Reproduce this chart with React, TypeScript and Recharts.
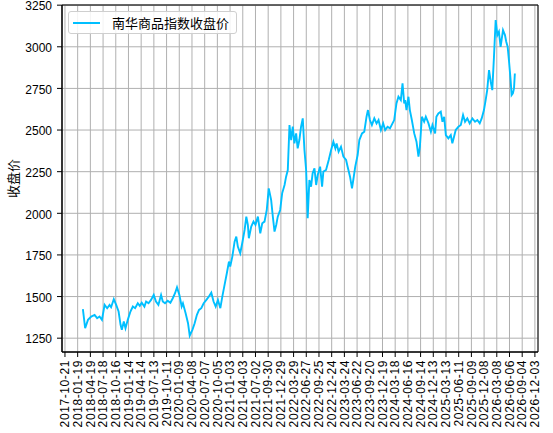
import React from 'react';
import {
  LineChart,
  Line,
  XAxis,
  YAxis,
  CartesianGrid,
  Legend,
  ReferenceArea,
} from 'recharts';

/* ------------------------------------------------------------------ */
/*  data                                                               */
/* ------------------------------------------------------------------ */
const SERIES_NAME = '南华商品指数收盘价';
const Y_LABEL = '收盘价';

const DATES = [
  '2018-02-25', '2018-03-13', '2018-04-02', '2018-04-25', '2018-05-19', '2018-06-06',
  '2018-06-23', '2018-07-10', '2018-07-29', '2018-08-16', '2018-09-02', '2018-09-13',
  '2018-10-02', '2018-10-19', '2018-11-05', '2018-11-19', '2018-11-28', '2018-12-12',
  '2018-12-24', '2019-01-09', '2019-01-28', '2019-02-14', '2019-03-02', '2019-03-21',
  '2019-04-04', '2019-04-18', '2019-05-07', '2019-05-19', '2019-06-05', '2019-06-23',
  '2019-07-12', '2019-07-28', '2019-08-14', '2019-09-02', '2019-09-14', '2019-09-30',
  '2019-10-19', '2019-11-07', '2019-11-24', '2019-12-10', '2019-12-24', '2020-01-10',
  '2020-01-26', '2020-02-04', '2020-02-23', '2020-03-11', '2020-03-23', '2020-04-11',
  '2020-04-27', '2020-05-13', '2020-05-28', '2020-06-13', '2020-06-30', '2020-07-19',
  '2020-08-06', '2020-08-23', '2020-09-08', '2020-09-23', '2020-10-09', '2020-10-26',
  '2020-11-09', '2020-11-25', '2020-12-11', '2020-12-26', '2021-01-04', '2021-01-19',
  '2021-02-04', '2021-02-16', '2021-02-27', '2021-03-16', '2021-03-30', '2021-04-16',
  '2021-04-28', '2021-05-09', '2021-05-16', '2021-06-02', '2021-06-18', '2021-07-02',
  '2021-07-19', '2021-08-05', '2021-08-19', '2021-09-04', '2021-09-20', '2021-10-04',
  '2021-10-21', '2021-11-02', '2021-11-14', '2021-11-26', '2021-12-07', '2021-12-24',
  '2022-01-07', '2022-01-24', '2022-02-04', '2022-02-16', '2022-02-28', '2022-03-12',
  '2022-03-23', '2022-04-04', '2022-04-16', '2022-04-27', '2022-05-09', '2022-05-21',
  '2022-06-02', '2022-06-14', '2022-06-26', '2022-07-07', '2022-07-19', '2022-07-31',
  '2022-08-11', '2022-08-24', '2022-09-05', '2022-09-16', '2022-10-03', '2022-10-17',
  '2022-10-26', '2022-11-14', '2022-12-03', '2022-12-20', '2023-01-05', '2023-01-19',
  '2023-01-28', '2023-02-11', '2023-02-28', '2023-03-17', '2023-04-05', '2023-04-16',
  '2023-05-03', '2023-05-17', '2023-05-26', '2023-06-09', '2023-06-26', '2023-07-08',
  '2023-07-27', '2023-08-12', '2023-08-28', '2023-09-07', '2023-09-21', '2023-10-05',
  '2023-10-22', '2023-11-07', '2023-11-21', '2023-12-08', '2023-12-24', '2024-01-07',
  '2024-01-24', '2024-02-10', '2024-02-28', '2024-03-11', '2024-03-27', '2024-04-10',
  '2024-04-27', '2024-05-09', '2024-05-21', '2024-05-28', '2024-06-06', '2024-06-20',
  '2024-06-30', '2024-07-14', '2024-07-31', '2024-08-16', '2024-08-30', '2024-09-09',
  '2024-09-23', '2024-10-09', '2024-10-21', '2024-11-09', '2024-11-26', '2024-12-07',
  '2024-12-26', '2025-01-04', '2025-01-18', '2025-02-04', '2025-02-16', '2025-02-28',
  '2025-03-12', '2025-03-30', '2025-04-16', '2025-04-27', '2025-05-09', '2025-05-21',
  '2025-06-09', '2025-06-26', '2025-07-12', '2025-07-26', '2025-08-11', '2025-08-28',
  '2025-09-16', '2025-10-05', '2025-10-21', '2025-11-07', '2025-11-21', '2025-12-07',
  '2025-12-19', '2025-12-30', '2026-01-12', '2026-01-24', '2026-02-04', '2026-02-16',
  '2026-02-28', '2026-03-12', '2026-03-23', '2026-04-04', '2026-04-21', '2026-05-05',
  '2026-05-14', '2026-05-24', '2026-06-02', '2026-06-14', '2026-06-21', '2026-06-30',
  '2026-07-08', '2026-07-14',
];

const CLOSE = [
  1424, 1310, 1360, 1380, 1390, 1370,
  1380, 1360, 1450, 1430, 1450, 1436,
  1484, 1450, 1410, 1330, 1300, 1350,
  1310, 1360, 1410, 1440, 1430, 1460,
  1444, 1463, 1440, 1470, 1460, 1480,
  1510, 1470, 1450, 1510, 1470, 1460,
  1475, 1463, 1490, 1520, 1555, 1510,
  1440, 1460, 1400, 1340, 1265, 1300,
  1340, 1390, 1420, 1430, 1460, 1480,
  1500, 1523, 1470, 1440, 1480, 1430,
  1500, 1570, 1640, 1710, 1680, 1740,
  1830, 1860, 1800, 1760, 1820, 1900,
  1980, 1930, 1850, 1920, 1950, 1930,
  1980, 1880, 1940, 1950, 2020, 2150,
  2080, 1980, 1890, 1930, 1980, 2020,
  2120, 2170, 2220, 2260, 2530, 2440,
  2520, 2420, 2480, 2390, 2440, 2520,
  2570, 2380, 2260, 1970, 2200, 2160,
  2240, 2270, 2170, 2230, 2280, 2160,
  2250, 2260, 2320, 2380, 2430, 2390,
  2420, 2370, 2400, 2340, 2320, 2280,
  2220, 2150, 2200, 2280, 2350, 2440,
  2480, 2490, 2580, 2620, 2560, 2530,
  2570, 2540, 2560, 2500, 2540, 2500,
  2520, 2510, 2540, 2560, 2660, 2700,
  2680, 2780, 2660, 2680, 2620, 2700,
  2620, 2560, 2480, 2430, 2340, 2400,
  2580, 2550, 2580, 2540, 2490, 2530,
  2480, 2580, 2600, 2610, 2550, 2580,
  2470, 2450, 2470, 2420, 2460, 2500,
  2520, 2530, 2590, 2550, 2570, 2540,
  2570, 2550, 2560, 2540, 2570, 2620,
  2680, 2740, 2860, 2790, 2740, 2940,
  3160, 3070, 3090, 3000, 3100, 3070,
  3030, 3000, 2920, 2800, 2710, 2720,
  2750, 2840,
];

const X_TICK_DATES = [
  '2017-10-21', '2018-01-19', '2018-04-19', '2018-07-18', '2018-10-16', '2019-01-14',
  '2019-04-14', '2019-07-13', '2019-10-11', '2020-01-09', '2020-04-08', '2020-07-07',
  '2020-10-05', '2021-01-03', '2021-04-03', '2021-07-02', '2021-09-30', '2021-12-29',
  '2022-03-29', '2022-06-27', '2022-09-25', '2022-12-24', '2023-03-24', '2023-06-22',
  '2023-09-20', '2023-12-19', '2024-03-18', '2024-06-16', '2024-09-14', '2024-12-13',
  '2025-03-13', '2025-06-11', '2025-09-09', '2025-12-08', '2026-03-08', '2026-06-06',
  '2026-09-04', '2026-12-03',
];

const Y_TICKS = [1250, 1500, 1750, 2000, 2250, 2500, 2750, 3000, 3250];

const X_LIMITS = ['2017-09-30', '2026-12-25'];
const Y_LIMITS = [1167, 3251];

/* ------------------------------------------------------------------ */
/*  helpers                                                            */
/* ------------------------------------------------------------------ */
const toTs = (s: string) => Date.parse(s + 'T00:00:00Z');

const fmtDate = (ts: number) => new Date(ts).toISOString().slice(0, 10);

const chartData = DATES.map((d, i) => ({ t: toTs(d), close: CLOSE[i] }));
const xTicks = X_TICK_DATES.map(toTs);
const xDomain = X_LIMITS.map(toTs);

const FONT = '"Liberation Sans", Arial, "Noto Sans CJK SC", sans-serif';
const CJK_FONT = '"Noto Sans CJK SC", "Liberation Sans", sans-serif';
const LINE_COLOR = '#00bfff';

function DateTick({ x, y, payload }: any) {
  return (
    <text
      x={x}
      y={y}
      transform={`rotate(-90, ${x}, ${y})`}
      textAnchor="end"
      dy="0.35em"
      fontSize={12}
      fontFamily={FONT}
      letterSpacing={0.6}
      fill="#000"
    >
      {fmtDate(payload.value)}
    </text>
  );
}

function LegendBox() {
  return (
    <div
      style={{
        display: 'flex',
        alignItems: 'center',
        width: 169,
        height: 23,
        boxSizing: 'border-box',
        border: '1px solid #cfcfcf',
        borderRadius: 3,
        background: 'rgba(255,255,255,0.85)',
      }}
    >
      <svg width={40} height={21} style={{ display: 'block' }}>
        <line x1={4} y1={11} x2={31} y2={11} stroke={LINE_COLOR} strokeWidth={2} />
      </svg>
      <span style={{ fontFamily: CJK_FONT, fontSize: 13, color: '#000', marginLeft: 3 }}>
        {SERIES_NAME}
      </span>
    </div>
  );
}

export default function App() {
  return (
    <div style={{ position: 'absolute', left: 0, top: 0, width: 553, height: 433, background: '#fff' }}>
      <LineChart
        width={553}
        height={433}
        data={chartData}
        margin={{ top: 5, right: 15, left: 0, bottom: 0 }}
      >
        <CartesianGrid stroke="#b0b0b0" strokeWidth={1} />
        <XAxis
          dataKey="t"
          type="number"
          scale="time"
          domain={xDomain}
          ticks={xTicks}
          interval={0}
          height={81}
          tick={<DateTick />}
          tickSize={5}
          tickMargin={3}
          tickLine={{ stroke: '#000' }}
          axisLine={{ stroke: '#000' }}
          allowDataOverflow
        />
        <YAxis
          type="number"
          domain={Y_LIMITS}
          ticks={Y_TICKS}
          interval={0}
          width={62}
          tickSize={5}
          tickMargin={5}
          tick={{ fontSize: 12, fontFamily: FONT, fill: '#000', dy: 1 }}
          tickLine={{ stroke: '#000' }}
          axisLine={{ stroke: '#000' }}
          allowDataOverflow
          label={{
            value: Y_LABEL,
            angle: -90,
            position: 'insideLeft',
            offset: 13,
            style: { textAnchor: 'middle', fontSize: 13, fontFamily: CJK_FONT, fill: '#000' },
          }}
        />
        <ReferenceArea
          x1={xDomain[0]}
          x2={xDomain[1]}
          y1={Y_LIMITS[0]}
          y2={Y_LIMITS[1]}
          fill="none"
          stroke="#000"
          strokeWidth={1}
          ifOverflow="visible"
        />
        <Line
          type="linear"
          dataKey="close"
          name={SERIES_NAME}
          stroke={LINE_COLOR}
          strokeWidth={1.9}
          dot={false}
          isAnimationActive={false}
        />
        <Legend
          layout="horizontal"
          verticalAlign="middle"
          align="center"
          wrapperStyle={{ top: 11, left: 68, width: 169, height: 23 }}
          content={() => <LegendBox />}
        />
      </LineChart>
    </div>
  );
}
